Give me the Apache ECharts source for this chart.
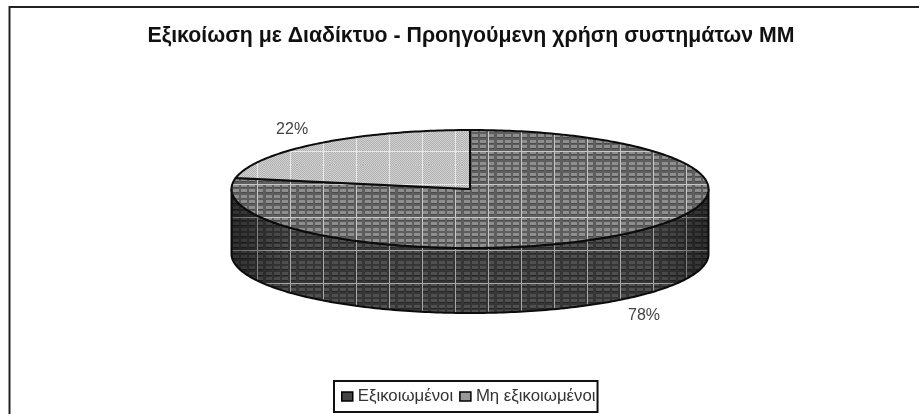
<!DOCTYPE html>
<html>
<head>
<meta charset="utf-8">
<script src="https://cdn.jsdelivr.net/npm/echarts@6/dist/echarts.min.js"></script>
<style>
html,body{margin:0;padding:0;background:#fff}
#main{width:919px;height:414px;filter:blur(0.45px)}
</style>
</head>
<body>
<div id="main"></div>
<script>
// data
const chartTitle = 'Εξικοίωση με Διαδίκτυο - Προηγούμενη χρήση συστημάτων ΜΜ'
const categories = ['Εξικοιωμένοι', 'Μη εξικοιωμένοι']
const shares = [78, 22]

// ellipse of the top face + height of the wall
const cx = 470, cy = 189, rx = 238.5, ry = 59, depth = 65
const total = shares.reduce((a, b) => a + b, 0)

// plaid texture, one tile per surface
const makeTile = (base, cell, gap, line) => {
  const c = document.createElement('canvas')
  c.width = 33
  c.height = 33
  const g = c.getContext('2d')
  g.fillStyle = base
  g.fillRect(0, 0, 33, 33)
  for (let y = 2; y < 30; y += 5.5) {
    for (let x = 2; x < 32; x += 8) {
      g.fillStyle = cell
      g.fillRect(x, Math.round(y), 6, 3)
      g.fillStyle = gap
      g.fillRect(x, Math.round(y) + 3, 6, 1)
    }
  }
  g.fillStyle = line
  g.fillRect(26, 0, 1, 33)
  g.fillRect(0, 19, 33, 1)
  return {image: c, repeat: 'repeat'}
}
const makeDither = (base, dot, line) => {
  const c = document.createElement('canvas')
  c.width = 33
  c.height = 33
  const g = c.getContext('2d')
  g.fillStyle = base
  g.fillRect(0, 0, 33, 33)
  g.fillStyle = dot
  for (let y = 0; y < 33; y++) {
    for (let x = (y % 2) * 1; x < 33; x += 2) g.fillRect(x, y, 1, 1)
  }
  g.fillStyle = line
  g.fillRect(26, 0, 1, 33)
  g.fillRect(0, 19, 33, 1)
  return {image: c, repeat: 'repeat'}
}
const topFills = [
  makeTile('#5e5e5e', '#8e8e8e', '#4a4a4a', '#c8c8c8'),
  makeDither('#d2d2d2', '#b0b0b0', '#e8e8e8')
]
const sideFill = makeTile('#363636', '#505050', '#262626', '#a8a8a8')

const onEllipse = (a, dy = 0) => [cx + rx * Math.sin(a), cy - ry * Math.cos(a) + dy]
const arcPoints = (from, to, dy = 0) => {
  const pts = []
  const n = Math.max(2, Math.ceil(Math.abs(to - from) * 60))
  for (let i = 0; i <= n; i++) pts.push(onEllipse(from + (to - from) * i / n, dy))
  return pts
}

const renderSlice = (index) => (params, api) => {
  const value = api.value(0)
  const before = shares.slice(0, index).reduce((a, b) => a + b, 0)
  const start = before / total * Math.PI * 2
  const end = start + value / total * Math.PI * 2
  const mid = (start + end) / 2
  const children = []

  // wall, only the part facing the viewer
  const from = Math.max(start, Math.PI / 2)
  const to = Math.min(end, Math.PI * 1.5)
  if (to > from) {
    const wall = arcPoints(from, to).concat(arcPoints(to, from, depth))
    children.push({type: 'polygon', shape: {points: wall},
      style: {fill: sideFill, stroke: '#0c0c0c', lineWidth: 2}})
    children.push({type: 'polygon', shape: {points: wall}, silent: true,
      style: {fill: new echarts.graphic.LinearGradient(0, 0, 1, 0, [
        {offset: 0, color: 'rgba(0,0,0,0.4)'},
        {offset: 0.12, color: 'rgba(0,0,0,0)'},
        {offset: 0.88, color: 'rgba(0,0,0,0)'},
        {offset: 1, color: 'rgba(0,0,0,0.4)'}
      ])}})
  }

  // top face
  const face = [[cx, cy]].concat(arcPoints(start, end))
  children.push({type: 'polygon', shape: {points: face},
    style: {fill: topFills[index], stroke: '#0c0c0c', lineWidth: 2, lineJoin: 'round'}})

  // percent label outside the rim
  const lower = Math.cos(mid) < 0
  children.push({type: 'text', style: {
    x: cx + rx * (lower ? 1.145 : 1.17) * Math.sin(mid),
    y: cy - ry * (lower ? 1.36 : 1.3) * Math.cos(mid) + (lower ? depth : 0),
    text: value + '%',
    align: 'center',
    verticalAlign: 'middle',
    fill: '#444',
    font: '16px "Liberation Sans", Arial, sans-serif'
  }})
  return {type: 'group', children}
}

const myChart = echarts.init(document.getElementById('main'), null, {renderer: 'canvas'})
myChart.setOption({
  animation: false,
  backgroundColor: '#fff',
  title: {
    text: chartTitle,
    left: 466,
    top: 21,
    textAlign: 'center',
    textStyle: {color: '#111', fontSize: 21.3, fontWeight: 'bold', fontFamily: '"Liberation Sans", Arial, sans-serif'}
  },
  legend: {
    left: 334,
    top: 381,
    padding: [7, 2, 7, 7],
    itemGap: 6,
    itemWidth: 11,
    itemHeight: 9,
    icon: 'rect',
    borderColor: '#111',
    borderWidth: 2,
    itemStyle: {borderColor: '#000', borderWidth: 1.5},
    textStyle: {color: '#333', fontSize: 16.8, fontFamily: '"Liberation Sans", Arial, sans-serif'},
    data: categories
  },
  graphic: [{
    type: 'polyline',
    shape: {points: [[9.5, 414], [9.5, 7], [919, 7]]},
    style: {stroke: '#222', lineWidth: 2, fill: null}
  }],
  series: categories.map((name, i) => ({
    type: 'custom',
    name,
    coordinateSystem: 'none',
    itemStyle: {color: i === 0 ? '#444' : '#999'},
    renderItem: renderSlice(i),
    data: [[shares[i]]]
  }))
})
</script>
</body>
</html>
